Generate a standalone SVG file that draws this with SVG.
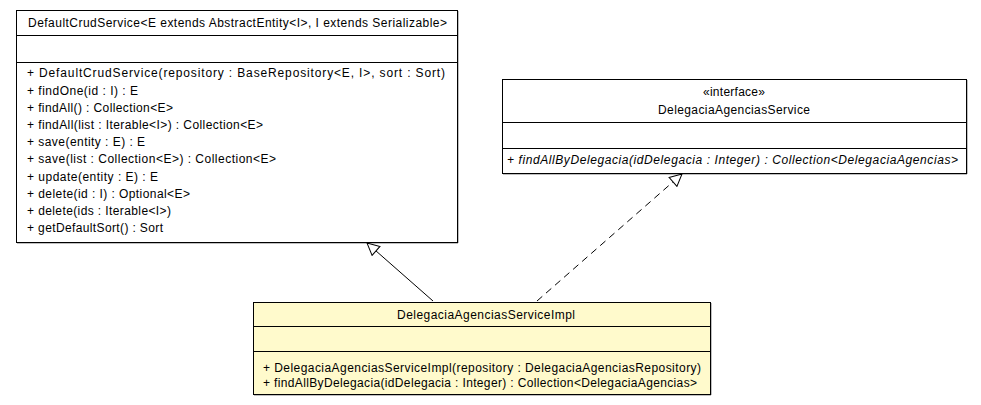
<svg xmlns="http://www.w3.org/2000/svg" width="981" height="405" viewBox="0 0 981 405">
<style>
  text { font-family: "Liberation Sans", Arial, sans-serif; font-size: 12px; fill: #000; }
  .c { text-anchor: middle; }
  .i { font-style: italic; }
  .box { stroke: #000; stroke-width: 1; }
  .shadow { fill: none; stroke: #808080; stroke-width: 1; }
  .sep { stroke: #000; stroke-width: 1; }
  .edge { stroke: #000; stroke-width: 1; fill: none; }
</style>
<defs>
  <marker id="tri" viewBox="0 0 14 14" refX="13" refY="7" markerWidth="14" markerHeight="14" markerUnits="userSpaceOnUse" orient="auto">
    <path d="M1,1 L13,7 L1,13 Z" fill="#fff" stroke="#000" stroke-width="1"/>
  </marker>
</defs>
<rect width="981" height="405" fill="#fff"/>

<g id="DefaultCrudService">
  <polyline class="shadow" points="458,11 458,243 17,243"/>
  <rect class="box" x="16.5" y="10.5" width="441" height="232" fill="#fff"/>
  <line class="sep" x1="16.5" y1="35.5" x2="457.5" y2="35.5"/>
  <line class="sep" x1="16.5" y1="62.5" x2="457.5" y2="62.5"/>
  <text x="28" y="27" textLength="419" lengthAdjust="spacing">DefaultCrudService&lt;E extends AbstractEntity&lt;I&gt;, I extends Serializable&gt;</text>
  <text x="27" y="77.3" textLength="418" lengthAdjust="spacing">+ DefaultCrudService(repository : BaseRepository&lt;E, I&gt;, sort : Sort)</text>
  <text x="27" y="94.5" textLength="111" lengthAdjust="spacing">+ findOne(id : I) : E</text>
  <text x="27" y="111.7" textLength="146" lengthAdjust="spacing">+ findAll() : Collection&lt;E&gt;</text>
  <text x="27" y="128.9" textLength="236" lengthAdjust="spacing">+ findAll(list : Iterable&lt;I&gt;) : Collection&lt;E&gt;</text>
  <text x="27" y="146.1" textLength="118" lengthAdjust="spacing">+ save(entity : E) : E</text>
  <text x="27" y="163.3" textLength="249" lengthAdjust="spacing">+ save(list : Collection&lt;E&gt;) : Collection&lt;E&gt;</text>
  <text x="27" y="180.5" textLength="131" lengthAdjust="spacing">+ update(entity : E) : E</text>
  <text x="27" y="197.7" textLength="163" lengthAdjust="spacing">+ delete(id : I) : Optional&lt;E&gt;</text>
  <text x="27" y="214.9" textLength="144" lengthAdjust="spacing">+ delete(ids : Iterable&lt;I&gt;)</text>
  <text x="27" y="232.1" textLength="136" lengthAdjust="spacing">+ getDefaultSort() : Sort</text>
</g>

<g id="DelegaciaAgenciasService">
  <polyline class="shadow" points="967,80 967,174 503,174"/>
  <rect class="box" x="502.5" y="79.5" width="464" height="94" fill="#fff"/>
  <line class="sep" x1="502.5" y1="122.5" x2="966.5" y2="122.5"/>
  <line class="sep" x1="502.5" y1="148.5" x2="966.5" y2="148.5"/>
  <text x="703" y="95.5" textLength="62" lengthAdjust="spacing">«interface»</text>
  <text x="658" y="113.5" textLength="152" lengthAdjust="spacing">DelegaciaAgenciasService</text>
  <text class="i" x="507" y="163.5" textLength="451" lengthAdjust="spacing">+ findAllByDelegacia(idDelegacia : Integer) : Collection&lt;DelegaciaAgencias&gt;</text>
</g>

<g id="DelegaciaAgenciasServiceImpl">
  <polyline class="shadow" points="711,303 711,395 254,395"/>
  <rect class="box" x="253.5" y="302.5" width="457" height="92" fill="#fffacc"/>
  <line class="sep" x1="253.5" y1="326.5" x2="710.5" y2="326.5"/>
  <line class="sep" x1="253.5" y1="351.5" x2="710.5" y2="351.5"/>
  <text x="397" y="318.5" textLength="178" lengthAdjust="spacing">DelegaciaAgenciasServiceImpl</text>
  <text x="263" y="371.5" textLength="438" lengthAdjust="spacing">+ DelegaciaAgenciasServiceImpl(repository : DelegaciaAgenciasRepository)</text>
  <text x="263" y="386.5" textLength="434" lengthAdjust="spacing">+ findAllByDelegacia(idDelegacia : Integer) : Collection&lt;DelegaciaAgencias&gt;</text>
</g>

<g id="connectors">
  <line class="edge" x1="433" y1="301" x2="367" y2="243" marker-end="url(#tri)"/>
  <line class="edge" x1="537" y1="301" x2="682" y2="174" stroke-dasharray="7,5" marker-end="url(#tri)"/>
</g>
</svg>
